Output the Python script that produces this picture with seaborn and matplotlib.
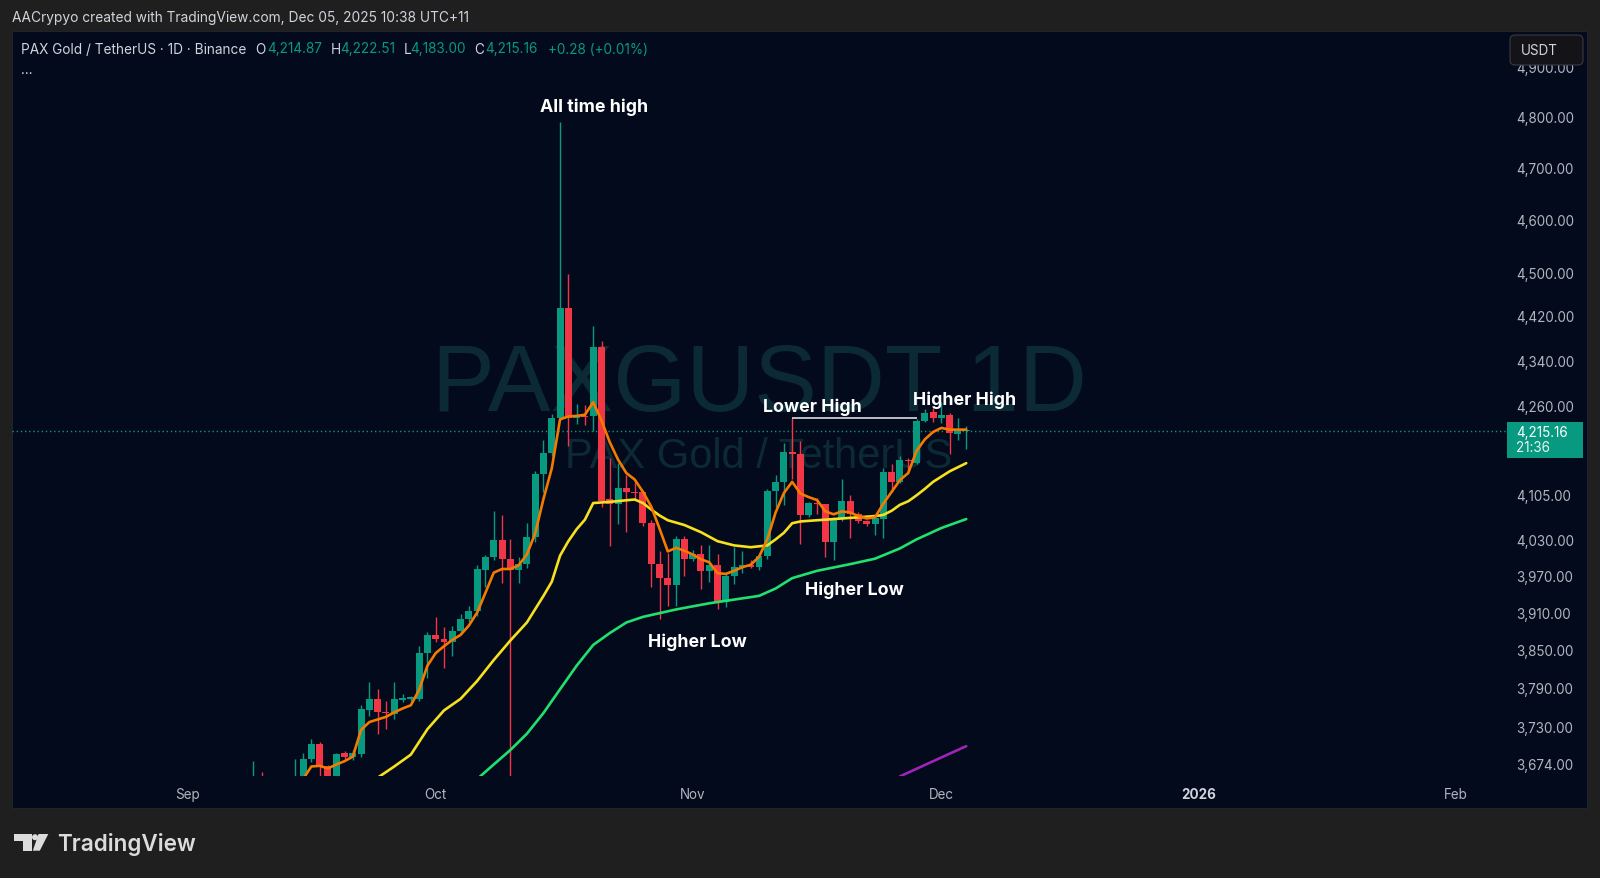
import numpy as np
import pandas as pd
import matplotlib
matplotlib.use('Agg')
import matplotlib.pyplot as plt
import matplotlib.dates as mdates
import matplotlib.ticker as mticker
from matplotlib.transforms import Affine2D
from matplotlib.patches import Rectangle, FancyBboxPatch, Polygon, Circle
import seaborn as sns

# daily candles, PAXG/USDT (Binance)
dates = pd.date_range('2025-09-09', '2025-12-04', freq='D')
opens = [3625, 3645, 3635, 3640, 3645, 3640, 3645, 3681, 3703, 3670, 3645, 3689, 3684, 3688,
         3756, 3772, 3753, 3750, 3771, 3772, 3772, 3845,
         3874, 3868, 3862, 3881, 3899, 3912, 3980, 4000, 4029, 3997, 3980, 3990, 4034, 4140,
         4176, 4238, 4435, 4238, 4241, 4240, 4364, 4097, 4090, 4117, 4110, 4109, 4057, 3990,
         3966, 3954, 4031,
         3997, 4006, 3977, 3988, 3927, 3970, 3984, 3988, 3985, 4002, 4112, 4127, 4178, 4174,
         4071, 4091, 4089, 4026, 4065, 4095, 4073, 4061, 4056, 4064, 4143, 4127, 4164, 4160,
         4232, 4247,
         4237, 4243, 4210, 4214.87]
highs = [3678, 3660, 3650, 3652, 3650, 3681, 3690, 3711, 3706, 3672, 3690, 3692, 3694, 3763,
         3800, 3788, 3769, 3799, 3780, 3778, 3856, 3879,
         3903, 3886, 3888, 3907, 3920, 3988, 4004, 4077, 4071, 4030, 4000, 4057, 4145, 4199,
         4245, 4788, 4497, 4262, 4260, 4401, 4374, 4168, 4159, 4139, 4126, 4112, 4063, 4011,
         4008, 4036, 4035,
         4012, 4020, 4021, 4005, 3973, 4017, 4011, 3995, 4004, 4115, 4139, 4193, 4237, 4197,
         4093, 4099, 4090, 4068, 4131, 4104, 4076, 4063, 4068, 4150, 4157, 4171, 4168, 4236,
         4253, 4255,
         4265, 4246, 4237, 4222.51]
lows = [3610, 3620, 3610, 3620, 3632, 3630, 3635, 3676, 3640, 3630, 3635, 3681, 3679, 3684,
        3747, 3719, 3727, 3741, 3768, 3769, 3770, 3805,
        3862, 3822, 3840, 3875, 3894, 3905, 3952, 3996, 3958, 3550, 3958, 3982, 4025, 4110,
        4172, 4236, 4188, 4227, 4225, 4214, 4085, 4019, 4055, 4042, 4098, 4053, 3951, 3900,
        3921, 3921, 3970,
        3994, 3949, 3960, 3916, 3919, 3957, 3975, 3982, 3980, 3998, 4084, 4087, 4131, 4022,
        4068, 4072, 4000, 3995, 4060, 4033, 4058, 4053, 4038, 4033, 4110, 4125, 4142, 4158,
        4230, 4230,
        4228, 4175, 4199, 4183.00]
closes = [3640, 3635, 3640, 3645, 3642, 3648, 3681, 3703, 3670, 3640, 3688, 3684, 3690, 3757,
          3772, 3752, 3751, 3772, 3775, 3776, 3845, 3874,
          3867, 3862, 3881, 3900, 3912, 3981, 4000, 4029, 3997, 3980, 3990, 4034, 4140, 4176,
          4238, 4435, 4238, 4242, 4239, 4364, 4095, 4090, 4117, 4109, 4108, 4057, 3990, 3966,
          3954, 4031, 3997,
          4006, 3977, 3988, 3927, 3970, 3984, 3988, 3985, 4002, 4112, 4127, 4178, 4174, 4071,
          4091, 4089, 4026, 4065, 4095, 4073, 4061, 4055, 4065, 4143, 4127, 4164, 4162, 4232,
          4246, 4237,
          4243, 4212, 4215, 4215.16]

# moving averages (orange = fast, daily from Sep 15)
ema_fast_dates = pd.date_range('2025-09-15', '2025-12-04', freq='D')
ema_fast = [3650, 3669, 3670, 3666, 3672, 3677, 3684,
            3725, 3737, 3741, 3745, 3752, 3758, 3763, 3787, 3825, 3845,
            3856, 3866, 3874, 3889, 3910, 3942, 3975, 3981, 3981, 3987,
            4005, 4040, 4098, 4150, 4235, 4240, 4241, 4243, 4265, 4233,
            4195, 4165, 4142, 4131, 4110, 4085, 4048, 4010, 4016, 4011,
            4005, 3997, 3992, 3974, 3973, 3978, 3984, 3988, 4001, 4030,
            4075, 4108, 4127, 4107, 4101, 4096, 4077, 4072, 4077, 4075,
            4069, 4065, 4067, 4090, 4110, 4130, 4142, 4180, 4200, 4213,
            4220, 4217, 4217, 4217]

ema_mid_dates = ['2025-09-24', '2025-09-26', '2025-09-28', '2025-09-30', '2025-10-02',
                 '2025-10-04', '2025-10-06', '2025-10-08', '2025-10-10', '2025-10-12',
                 '2025-10-14', '2025-10-15', '2025-10-16', '2025-10-17', '2025-10-18',
                 '2025-10-19', '2025-10-20', '2025-10-22', '2025-10-25', '2025-10-26',
                 '2025-10-27', '2025-10-28', '2025-10-29', '2025-10-31', '2025-11-02',
                 '2025-11-04', '2025-11-06', '2025-11-08', '2025-11-10', '2025-11-11',
                 '2025-11-12', '2025-11-13', '2025-11-14', '2025-11-17', '2025-11-20',
                 '2025-11-23', '2025-11-24', '2025-11-25', '2025-11-26', '2025-11-27',
                 '2025-11-28', '2025-11-29', '2025-11-30', '2025-12-01', '2025-12-02',
                 '2025-12-03', '2025-12-04']
ema_mid = [3652, 3669, 3687, 3726, 3755, 3773, 3801, 3834, 3865, 3894,
           3937, 3960, 4003, 4027, 4047, 4063, 4091, 4093, 4097, 4091,
           4080, 4070, 4062, 4054, 4042, 4027, 4020, 4017, 4020, 4030,
           4041, 4057, 4060, 4063, 4066, 4069, 4071, 4078, 4088, 4094,
           4104, 4115, 4127, 4136, 4145, 4152, 4159]

ema_slow_dates = ['2025-10-06', '2025-10-08', '2025-10-10', '2025-10-12', '2025-10-14',
                  '2025-10-16', '2025-10-18', '2025-10-20', '2025-10-22', '2025-10-24',
                  '2025-10-26', '2025-10-28', '2025-10-30', '2025-11-01', '2025-11-03',
                  '2025-11-05', '2025-11-07', '2025-11-09', '2025-11-11', '2025-11-13',
                  '2025-11-16', '2025-11-20', '2025-11-23', '2025-11-26', '2025-11-28',
                  '2025-12-01', '2025-12-04']
ema_slow = [3650, 3672, 3694, 3719, 3751, 3788, 3825, 3858, 3877, 3894,
            3903, 3909, 3915, 3920, 3925, 3929, 3933, 3937, 3949, 3966,
            3978, 3989, 3998, 4015, 4030, 4049, 4064]

ema_long_dates = ['2025-11-26', '2025-11-30', '2025-12-04']
ema_long = [3654, 3677, 3700]

price_ticks = [4900, 4800, 4700, 4600, 4500, 4420, 4340, 4260, 4105, 4030, 3970, 3910,
               3850, 3790, 3730, 3674]
month_ticks = ['2025-09-01', '2025-10-01', '2025-11-01', '2025-12-01', '2026-01-01', '2026-02-01']
month_labels = ['Sep', 'Oct', 'Nov', 'Dec', '2026', 'Feb']
last_price = 4215.16

GREEN = '#089981'
RED = '#f23645'
PANEL = '#020a1c'
OUTER = '#1f1f1f'
TXT = '#d1d4dc'
GREY = '#b2b5be'

sns.set_theme(style='dark')
plt.rcParams['font.family'] = ['Inter', 'DejaVu Sans']

W, H = 1600, 879
fig = plt.figure(figsize=(16, 8.79), dpi=100, facecolor=OUTER)
PX = Affine2D().scale(1 / W, -1 / H).translate(0, 1) + fig.transFigure

# chart panel
fig.patches.append(Rectangle((12, 32), 1575, 777, transform=PX, facecolor=PANEL,
                             edgecolor='#23262f', lw=0.6, zorder=-5))

ax = fig.add_axes([12 / W, 1 - 777 / H, 1575 / W, 745 / H])
ax.set_facecolor('none')
for s in ax.spines.values():
    s.set_visible(False)
ax.grid(False)

x = mdates.date2num(dates)
o = np.array(opens, float)
c = np.array(closes, float)
up = c >= o
cols = np.where(up, GREEN, RED)
ax.vlines(x, lows, highs, colors=cols, lw=1.0, zorder=3)
ax.bar(x, np.maximum(np.abs(c - o), 1.2), bottom=np.minimum(o, c), width=0.84,
       color=cols, linewidth=0, zorder=4)

fast = pd.DataFrame({'d': mdates.date2num(ema_fast_dates), 'v': ema_fast})
mid = pd.DataFrame({'d': mdates.date2num(pd.to_datetime(ema_mid_dates)), 'v': ema_mid})
slow = pd.DataFrame({'d': mdates.date2num(pd.to_datetime(ema_slow_dates)), 'v': ema_slow})
long_ = pd.DataFrame({'d': mdates.date2num(pd.to_datetime(ema_long_dates)), 'v': ema_long})
sns.lineplot(data=slow, x='d', y='v', ax=ax, color='#22e06e', lw=1.9, zorder=5, sort=False, estimator=None)
sns.lineplot(data=mid, x='d', y='v', ax=ax, color='#f7e01c', lw=1.9, zorder=5, sort=False, estimator=None)
sns.lineplot(data=fast, x='d', y='v', ax=ax, color='#f57a00', lw=1.9, zorder=6, sort=False, estimator=None)
sns.lineplot(data=long_, x='d', y='v', ax=ax, color='#a024b8', lw=1.9, zorder=5, sort=False, estimator=None)

x0 = mdates.date2num(pd.Timestamp('2025-09-01'))
ax.set_xlim(x0 - 175 / 8.29, x0 + 1400 / 8.29)
ax.set_yscale('log')
ax.set_ylim(3654.6, 4972.2)
ax.set_xlabel('')
ax.set_ylabel('')

# price scale
ax.yaxis.tick_right()
ax.yaxis.set_major_locator(mticker.FixedLocator(price_ticks))
ax.yaxis.set_minor_locator(mticker.NullLocator())
ax.yaxis.set_major_formatter(mticker.FuncFormatter(lambda v, p: f'{v:,.2f}'))
ax.tick_params(axis='y', length=0, pad=-51, labelsize=9.7, labelcolor=GREY,
               right=True, labelright=True, left=False, labelleft=False)

# time scale
ax.set_xticks(mdates.date2num(pd.to_datetime(month_ticks)))
ax.set_xticklabels(month_labels)
ax.xaxis.set_minor_locator(mticker.NullLocator())
ax.tick_params(axis='x', length=0, pad=8, labelsize=9.7, labelcolor=GREY)
for lab in ax.get_xticklabels():
    if lab.get_text() == '2026':
        lab.set_color(TXT)
        lab.set_fontweight('bold')

# last price line
ax.axhline(last_price, xmin=0, xmax=(1506 - 12) / 1575, color=GREEN, lw=1, ls=(0, (1, 2)), zorder=2)

# Lower High marker line
ax.hlines(4237, mdates.date2num(pd.Timestamp('2025-11-13')), mdates.date2num(pd.Timestamp('2025-11-28')),
          color='#c9cbd1', lw=1.3, zorder=7)

# watermark
ax.text(759, 410.7, 'PAXGUSDT 1D', transform=PX, ha='center', va='baseline',
        fontsize=67.7, family='Liberation Sans', color='#0c2a36', zorder=1)
ax.text(759, 468.3, 'PAX Gold / TetherUS', transform=PX, ha='center', va='baseline',
        fontsize=30, family='Liberation Sans', color='#0c2a36', zorder=1)

# annotations
for txt, ax_x, ax_y in [('All time high', 594, 112), ('Lower High', 812, 412),
                        ('Higher High', 965, 405), ('Higher Low', 697, 647),
                        ('Higher Low', 854, 595)]:
    ax.text(ax_x, ax_y, txt, transform=PX, ha='center', va='baseline', fontsize=12.8,
            fontweight='bold', color='white', zorder=10)

# last price badge
fig.patches.append(Rectangle((1506.7, 423.3), 76, 35.7, transform=PX, facecolor=GREEN,
                             edgecolor='none', zorder=5))
fig.text(1516, 432.7, f'{last_price:,.2f}', transform=PX, ha='left', va='center',
         fontsize=9.7, color='white', zorder=6)
fig.text(1516, 448.5, '21:36', transform=PX, ha='left', va='center',
         fontsize=9.7, color='#e8f5f2', zorder=6)

# currency button (covers most of the top price label)
fig.patches.append(FancyBboxPatch((1510, 36), 73, 30, boxstyle='round,pad=0,rounding_size=5',
                                  transform=PX, facecolor='#141418', edgecolor='#3a3a40',
                                  lw=0.8, zorder=8))
fig.text(1521, 51, 'USDT', transform=PX, ha='left', va='center', fontsize=9.7,
         color=TXT, zorder=9)

# header
fig.text(12.5, 18, 'AACrypyo created with TradingView.com, Dec 05, 2025 10:38 UTC+11',
         transform=PX, ha='left', va='center', fontsize=9.9, color=TXT)
legend_parts = [(21.4, 'PAX Gold / TetherUS · 1D · Binance', TXT), (255.4, 'O', TXT),
                (267, '4,214.87', GREEN), (330.4, 'H', TXT), (340.2, '4,222.51', GREEN),
                (404, 'L', TXT), (409.8, '4,183.00', GREEN), (474.6, 'C', TXT),
                (485.7, '4,215.16', GREEN), (548.2, '+0.28 (+0.01%)', GREEN)]
for lx, t, col in legend_parts:
    fig.text(lx, 49.5, t, transform=PX, ha='left', va='center', fontsize=9.8, color=col)
fig.text(21, 70, '...', transform=PX, ha='left', va='center', fontsize=9.8, color=TXT)

# TradingView logo
LOGO = '#dcdcdc'
fig.patches.append(Polygon([(14, 835), (31.7, 835), (31.7, 851.7), (22.7, 851.7),
                            (22.7, 841.7), (14, 841.7)], closed=True, transform=PX,
                           facecolor=LOGO, edgecolor='none'))
fig.patches.append(Circle((35, 838.2), 3.0, transform=PX, facecolor=LOGO, edgecolor='none'))
fig.patches.append(Polygon([(38.5, 835), (48.3, 835), (39.8, 851.7), (32.8, 851.7)],
                           closed=True, transform=PX, facecolor=LOGO, edgecolor='none'))
fig.text(56.7, 851, 'TradingView', transform=PX, ha='left', va='baseline', fontsize=16.2,
         fontweight='semibold', color=LOGO)

fig.savefig('out.png', dpi=100, facecolor=OUTER)
